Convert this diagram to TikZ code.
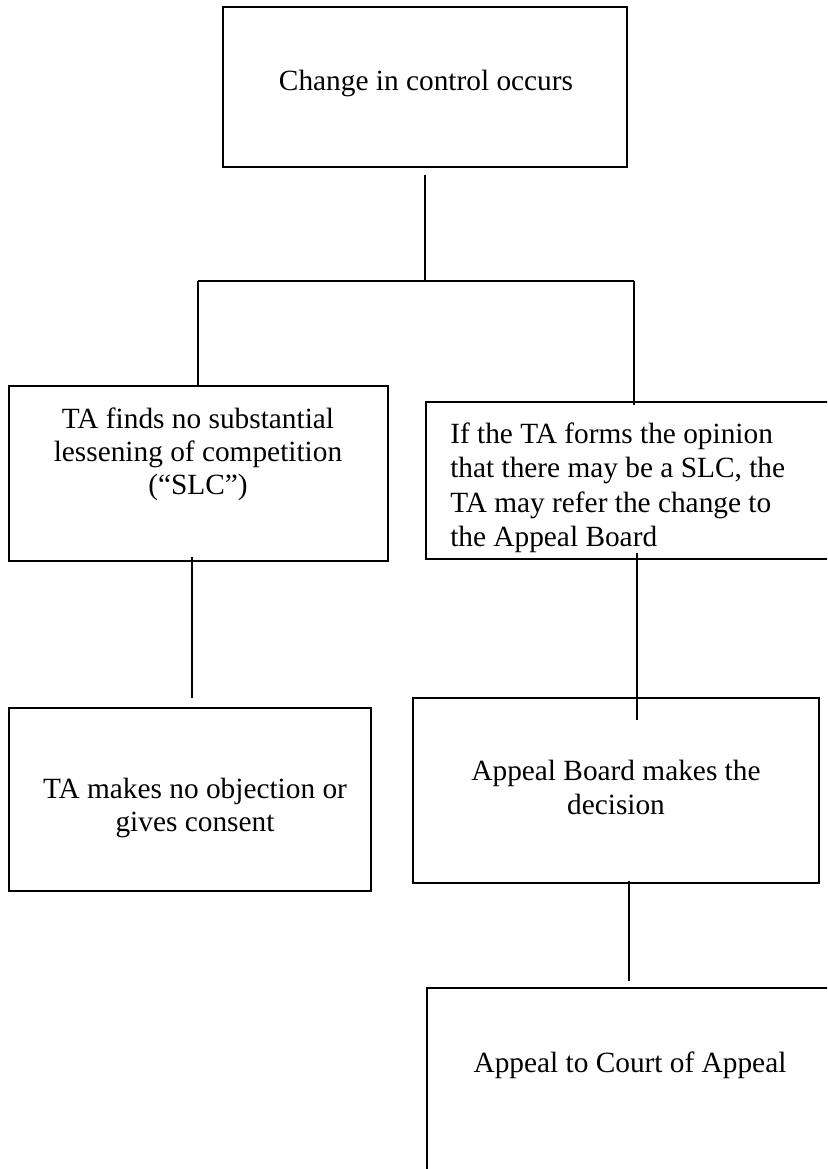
\documentclass[tikz,border=0pt]{standalone}
\usepackage{fontspec}
\setmainfont{Liberation Serif}
\usetikzlibrary{fit}
\begin{document}
\begin{tikzpicture}[x=0.75pt,y=-0.75pt,
  box/.style={draw=black,line width=1.6pt,inner sep=0pt,fill=none},
  txt/.style={inner sep=0pt,font=\fontsize{22}{24.75}\selectfont},
  conn/.style={draw=black,line width=2.1pt}]
\useasboundingbox (0,0) rectangle (827,1169);
\clip (0,0) rectangle (827,1169);
% boxes
\node[box,fit={(223,7) (627,167)}] (top) {};
\node[box,fit={(9,386) (388,561)}] (left1) {};
\node[box,fit={(426,402) (900,559)}] (right1) {};
\node[box,fit={(9,708) (371,891)}] (left2) {};
\node[box,fit={(413,698) (819,883)}] (board) {};
\node[box,fit={(427,988) (900,1250)}] (court) {};
% texts
\node[txt,anchor=base] (toptext) at (426,91) {Change in control occurs};
\node[txt,anchor=base,text width=360pt,align=flush center] (left1text) at (198,428)
  {TA finds no substantial\\lessening of competition\\(“SLC”)};
\node[txt,anchor=base west,text width=360pt,align=flush left,font=\fontsize{22}{25.9}\selectfont] (right1text) at (450,443)
  {If the TA forms the opinion\\that there may be a SLC, the\\TA may refer the change to\\the Appeal Board};
\node[txt,anchor=base,text width=360pt,align=flush center] (left2text) at (195,798)
  {TA makes no objection or\\gives consent};
\node[txt,anchor=base,text width=360pt,align=flush center,font=\fontsize{22}{25.5}\selectfont] (boardtext) at (616,780)
  {Appeal Board makes the\\decision};
\node[txt,anchor=base] (courttext) at (630,1072) {Appeal to Court of Appeal};
% connector coordinates
\coordinate (c1) at (425,175);
\coordinate (j) at (425,281);
\coordinate (jl) at (198,281);
\coordinate (jr) at (634,281);
\coordinate (jrend) at (634,405);
\coordinate (a1) at (192,557);
\coordinate (a2) at (192,698);
\coordinate (b1) at (637,553);
\coordinate (b2) at (637,720);
\coordinate (d1) at (629,881);
\coordinate (d2) at (629,981);
% connectors
\draw[conn] (c1) -- (j);
\draw[conn] (jl) -- (jr);
\draw[conn] (jl) -- (jl |- left1.north);
\draw[conn] (jr) -- (jrend);
\draw[conn] (a1) -- (a2);
\draw[conn] (b1) -- (b2);
\draw[conn] (d1) -- (d2);
\end{tikzpicture}
\end{document}
